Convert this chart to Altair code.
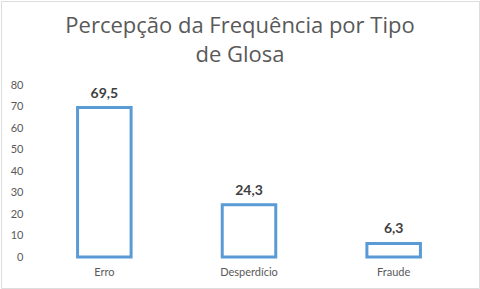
import altair as alt
import pandas as pd

categories = ["Erro", "Desperdício", "Fraude"]
values = [69.5, 24.3, 6.3]
labels = [f"{v:.1f}".replace(".", ",") for v in values]
y_ticks = [0, 10, 20, 30, 40, 50, 60, 70, 80]

df = pd.DataFrame({"cat": categories, "val": values, "lab": labels})

FONT = "Lato"
GRAY = "#595959"

x = alt.X("cat:N", sort=categories, title=None,
          scale=alt.Scale(range=[31, 465], paddingInner=0.63, paddingOuter=0.315),
          axis=alt.Axis(labelAngle=0, ticks=False, domain=False, labelPadding=9,
                        offset=-31, labelColor=GRAY, labelFont=FONT, labelFontSize=11))
y = alt.Y("val:Q", title=None,
          scale=alt.Scale(domain=[0, 80], range=[256, 84], nice=False),
          axis=alt.Axis(values=y_ticks, ticks=False, domain=False,
                        grid=False, offset=-28, labelPadding=6, labelColor=GRAY,
                        labelFont=FONT, labelFontSize=11, labelOverlap=False,
                        labelSeparation=0))

base = alt.Chart(df).encode(x=x, y=y)
bars = base.mark_bar(fill="white", stroke="#5B9BD5", strokeWidth=3)
text = base.mark_text(baseline="bottom", dy=-7, fontWeight="bold", font=FONT,
                      fontSize=14, color="#404040").encode(text="lab:N")

chart = (bars + text).properties(
    width=478, height=287,
    title=alt.Title(["Percepção da Frequência por Tipo", "de Glosa"], fontSize=22,
                    font="Open Sans", fontWeight="normal", color=GRAY, anchor="middle",
                    offset=-66, lineHeight=29),
    autosize=alt.AutoSizeParams(type="none"),
    padding=1,
).configure_view(stroke="#D9D9D9", strokeWidth=1).configure(background="white")

chart.save("out.html", embed_options={"renderer": "svg", "actions": False})
